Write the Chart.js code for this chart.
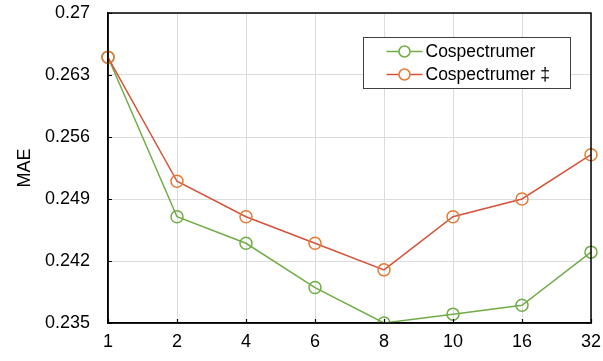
<!DOCTYPE html>
<html>
<head>
<meta charset="utf-8">
<script src="https://cdn.jsdelivr.net/npm/chart.js@4.4.1/dist/chart.umd.min.js"></script>
<style>
  html, body { margin: 0; padding: 0; background: #fff; }
  #wrap { width: 603px; height: 361px; position: relative; }
</style>
</head>
<body>
<div id="wrap"><canvas id="c"></canvas></div>
<script>
const categories = ['1', '2', '4', '6', '8', '10', '16', '32'];
const cospectrumer = [0.265, 0.247, 0.244, 0.239, 0.235, 0.236, 0.237, 0.243];
const cospectrumerDagger = [0.265, 0.251, 0.247, 0.244, 0.241, 0.247, 0.249, 0.254];
const yTicks = [0.235, 0.242, 0.249, 0.256, 0.263, 0.27];

const FONT = '"Liberation Sans", Arial, sans-serif';

// Box around the plotting area, inward tick marks and the legend in the upper right
const framePlugin = {
  id: 'frame',
  afterDatasetsDraw(chart) {
    const { ctx, chartArea: a, scales } = chart;
    ctx.save();
    ctx.strokeStyle = '#000';
    ctx.lineWidth = 1.5;
    ctx.strokeRect(a.left, a.top, a.right - a.left, a.bottom - a.top);

    ctx.lineWidth = 1.2;
    ctx.beginPath();
    scales.y.ticks.forEach((t, i) => {
      const y = Math.round(scales.y.getPixelForTick(i)) + 0.5;
      ctx.moveTo(a.left, y);
      ctx.lineTo(a.left + 4, y);
    });
    scales.x.ticks.forEach((t, i) => {
      const x = Math.round(scales.x.getPixelForTick(i)) + 0.5;
      ctx.moveTo(x, a.bottom);
      ctx.lineTo(x, a.bottom - 4);
    });
    ctx.stroke();

    // legend
    const x0 = 363.5, y0 = 37.5, w = 207, h = 51;
    ctx.fillStyle = '#fff';
    ctx.fillRect(x0, y0, w, h);
    ctx.strokeStyle = '#404040';
    ctx.lineWidth = 1;
    ctx.strokeRect(x0, y0, w, h);
    ctx.font = '17.5px ' + FONT;
    ctx.textBaseline = 'middle';
    chart.data.datasets.forEach((ds, i) => {
      const yy = y0 + 14 + i * 23;
      ctx.strokeStyle = ds.borderColor;
      ctx.lineWidth = 1.5;
      ctx.beginPath();
      ctx.moveTo(x0 + 23, yy);
      ctx.lineTo(x0 + 59, yy);
      ctx.stroke();
      ctx.fillStyle = '#fff';
      ctx.strokeStyle = ds.pointBorderColor;
      ctx.beginPath();
      ctx.arc(x0 + 41, yy, 5.5, 0, Math.PI * 2);
      ctx.fill();
      ctx.stroke();
      ctx.fillStyle = '#000';
      ctx.fillText(ds.label, x0 + 62, yy + 1);
    });
    ctx.restore();
  }
};

new Chart(document.getElementById('c'), {
  type: 'line',
  data: {
    labels: categories,
    datasets: [
      {
        label: 'Cospectrumer',
        data: cospectrumer,
        order: 2,
        borderColor: '#70AD47',
        pointBorderColor: '#70AD47',
        pointBackgroundColor: 'rgba(255,255,255,0)',
        borderWidth: 1.5,
        pointRadius: 6,
        pointBorderWidth: 1.5,
        tension: 0
      },
      {
        label: 'Cospectrumer \u2021',
        data: cospectrumerDagger,
        order: 1,
        borderColor: '#D6533A',
        pointBorderColor: '#E57A33',
        pointBackgroundColor: 'rgba(255,255,255,0)',
        borderWidth: 1.5,
        pointRadius: 6,
        pointBorderWidth: 1.5,
        tension: 0
      }
    ]
  },
  options: {
    responsive: true,
    maintainAspectRatio: false,
    animation: false,
    layout: { autoPadding: false, padding: { top: 13, right: 12, left: 14, bottom: 0 } },
    plugins: { legend: { display: false }, tooltip: { enabled: false } },
    scales: {
      x: {
        offset: false,
        afterFit(scale) { scale.height = 38; scale.paddingLeft = 0; scale.paddingRight = 0; },
        grid: { color: '#dcdcdc', lineWidth: 1, drawTicks: false },
        border: { color: '#000', width: 1.5 },
        ticks: { color: '#000', font: { family: FONT, size: 18 }, padding: 8, maxRotation: 0 }
      },
      y: {
        min: 0.235,
        max: 0.27,
        afterBuildTicks(axis) { axis.ticks = yTicks.map(v => ({ value: v })); },
        afterFit(scale) { scale.width = 94; scale.paddingTop = 0; scale.paddingBottom = 0; },
        grid: { color: '#dcdcdc', lineWidth: 1, drawTicks: false },
        border: { color: '#000', width: 1.5 },
        ticks: {
          color: '#000',
          font: { family: FONT, size: 18 },
          padding: 18,
          callback: v => String(parseFloat(Number(v).toFixed(3)))
        },
        title: { display: true, text: 'MAE', color: '#000', font: { family: FONT, size: 18 }, padding: { top: 0, bottom: 0 } }
      }
    }
  },
  plugins: [framePlugin]
});
</script>
</body>
</html>
